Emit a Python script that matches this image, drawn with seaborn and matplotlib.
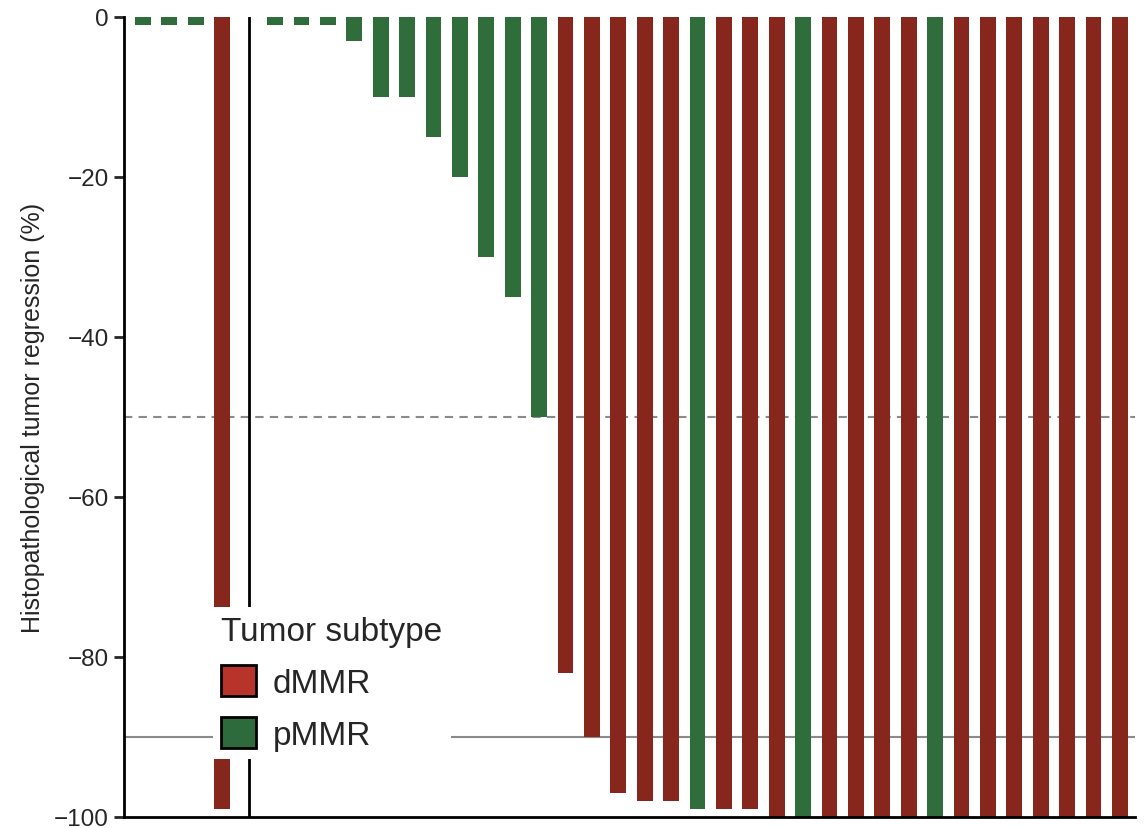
import numpy as np
import pandas as pd
import matplotlib
matplotlib.use("Agg")
import matplotlib.pyplot as plt
from matplotlib.patches import Patch
import seaborn as sns

# Per-patient histopathological regression, two cohorts separated by a line
subtype_group1 = ["pMMR", "pMMR", "pMMR", "dMMR"]
regression_group1 = [-1, -1, -1, -99]

subtype_group2 = [
    "pMMR", "pMMR", "pMMR", "pMMR", "pMMR", "pMMR", "pMMR", "pMMR", "pMMR", "pMMR", "pMMR",
    "dMMR", "dMMR", "dMMR", "dMMR", "dMMR", "pMMR", "dMMR", "dMMR", "dMMR", "pMMR",
    "dMMR", "dMMR", "dMMR", "dMMR", "pMMR",
    "dMMR", "dMMR", "dMMR", "dMMR", "dMMR", "dMMR", "dMMR",
]
regression_group2 = [
    -1, -1, -1, -3, -10, -10, -15, -20, -30, -35, -50,
    -82, -90, -97, -98, -98, -99, -99, -99, -100, -100,
    -100, -100, -100, -100, -100,
    -100, -100, -100, -100, -100, -100, -100,
]

subtype_order = ["dMMR", "pMMR"]
yticks = [0, -20, -40, -60, -80, -100]
major_response = -50
complete_response = -90

bar_colors = {"dMMR": "#86261d", "pMMR": "#2f6d3b"}
legend_colors = {"dMMR": "#b8342a", "pMMR": "#2e6b3c"}

# One slot per patient, with an empty slot holding the separator line
n1 = len(regression_group1)
sep_pos = n1
pos = list(range(n1)) + list(range(n1 + 1, n1 + 1 + len(regression_group2)))
df = pd.DataFrame({
    "pos": pos,
    "regression": regression_group1 + regression_group2,
    "subtype": subtype_group1 + subtype_group2,
})

sns.set_style("ticks")
plt.rcParams["font.family"] = ["Liberation Sans", "DejaVu Sans"]

fig = plt.figure(figsize=(11.48, 8.29), dpi=100)
ax = fig.add_axes([0.108, 0.0133, 0.8807, 0.965])

ax.axhline(major_response, color="#8a8a8a", lw=1.5, ls=(0, (4, 3)), zorder=0)
ax.axhline(complete_response, color="#8a8a8a", lw=1.5, zorder=0)

sns.barplot(
    data=df, x="pos", y="regression", hue="subtype", hue_order=subtype_order,
    palette=bar_colors, native_scale=True, dodge=False, width=0.6,
    saturation=1, legend=False, ax=ax, zorder=2,
)
for p in ax.patches:
    p.set_edgecolor("none")

ax.axvline(sep_pos, color="black", lw=2, zorder=3)

ax.set_xlim(-0.72, df["pos"].max() + 0.57)
ax.set_ylim(-100, 0)
ax.set_yticks(yticks)
ax.set_yticklabels([f"\u2212{abs(v)}" if v else "0" for v in yticks], fontsize=17.5)
ax.set_xticks([])
ax.set_xlabel("")
ax.set_ylabel("Histopathological tumor regression (%)", fontsize=18, labelpad=6)

for side in ("top", "right"):
    ax.spines[side].set_visible(False)
for side in ("left", "bottom"):
    ax.spines[side].set_linewidth(2)
    ax.spines[side].set_color("black")
    ax.spines[side].set_zorder(4)
ax.tick_params(axis="y", length=7, width=2, direction="out", pad=4)

handles = [Patch(facecolor=legend_colors[s], edgecolor="black", linewidth=2, label=s)
           for s in subtype_order]
leg = ax.legend(
    handles=handles, title="Tumor subtype", loc="lower left",
    bbox_to_anchor=(0.088, 0.072), borderaxespad=0, frameon=True,
    fancybox=False, framealpha=1, facecolor="white", edgecolor="none",
    fontsize=24, title_fontsize=24, alignment="left",
    handlelength=1.05, handleheight=1.05, handletextpad=0.5,
    labelspacing=0.55, borderpad=0.25,
)
leg.set_zorder(5)

fig.savefig("out.png", dpi=100)
